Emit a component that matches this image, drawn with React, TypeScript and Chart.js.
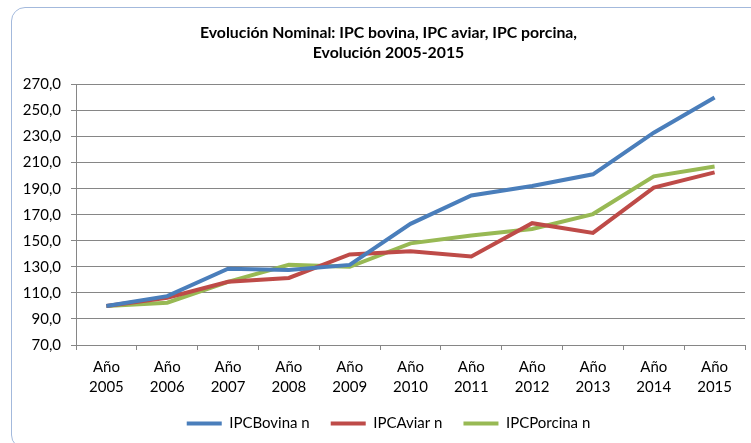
import React, { useEffect, useRef } from "react";
import { Chart, registerables } from "chart.js";

Chart.register(...registerables);

const years = ["2005", "2006", "2007", "2008", "2009", "2010", "2011", "2012", "2013", "2014", "2015"];
const bovina = [100, 107.5, 128.5, 127.5, 131.5, 163, 184.8, 192, 201, 233, 260];
const aviar = [100, 106.3, 118.5, 121.5, 139.5, 142, 138, 163.5, 156, 190.8, 202.5];
const porcina = [100, 102.5, 118.5, 131.5, 130, 148, 154, 159, 170.5, 199.5, 207];
const titleLines = ["Evolución Nominal: IPC bovina, IPC aviar, IPC porcina,", "Evolución 2005-2015"];
const FONT = "Lato";

export default function App() {
  const ref = useRef<HTMLCanvasElement>(null);
  useEffect(() => {
    document.body.style.margin = "0";
    const ctx = ref.current!;
    const chart = new Chart(ctx, {
      type: "line",
      data: {
        labels: years.map((y) => ["Año", y]),
        datasets: [
          { label: "IPCBovina n", data: bovina, borderColor: "#4A7EBB", backgroundColor: "#4A7EBB", borderWidth: 4, pointRadius: 0, tension: 0 },
          { label: "IPCAviar n", data: aviar, borderColor: "#BE4B48", backgroundColor: "#BE4B48", borderWidth: 4, pointRadius: 0, tension: 0 },
          { label: "IPCPorcina n", data: porcina, borderColor: "#98B954", backgroundColor: "#98B954", borderWidth: 4, pointRadius: 0, tension: 0 },
        ],
      },
      options: {
        animation: false,
        responsive: false,
        devicePixelRatio: 1,
        layout: { padding: { left: 20, right: 0, top: 23, bottom: 0 } },
        plugins: {
          title: {
            display: true,
            text: titleLines,
            color: "#000",
            font: { family: FONT, size: 15.8, weight: "bold", lineHeight: 1.28 },
            padding: { top: 0, bottom: 21 },
          },
          legend: {
            position: "bottom",
            labels: {
              usePointStyle: true,
              pointStyle: "line",
              pointStyleWidth: 35,
              color: "#000",
              font: { family: FONT, size: 15 },
              padding: 21,
            },
          },
          tooltip: { enabled: false },
        },
        scales: {
          x: {
            offset: true,
            afterFit: (s: any) => { s.height = 50; },
            grid: { offset: true, drawOnChartArea: false, drawTicks: true, tickLength: 5, color: "#868686" },
            border: { display: true, color: "#868686" },
            ticks: { color: "#000", font: { family: FONT, size: 15, lineHeight: 1.333 }, maxRotation: 0, autoSkip: false, padding: 7 },
          },
          y: {
            min: 70,
            max: 270,
            afterFit: (s: any) => { s.width = 56; },
            grid: { color: "#868686", tickLength: 5 },
            border: { display: true, color: "#868686" },
            ticks: {
              stepSize: 20,
              color: "#000",
              padding: 10,
              font: { family: FONT, size: 15 },
              callback: (v: any) => Number(v).toFixed(1).replace(".", ","),
            },
          },
          yRight: {
            type: "linear",
            position: "right",
            display: true,
            afterFit: (s: any) => { s.width = 12; },
            grid: { drawOnChartArea: false, drawTicks: false },
            border: { display: false },
            ticks: { display: false },
          },
        },
      },
    });
    return () => chart.destroy();
  }, []);
  return (
    <div style={{ position: "relative", width: 751, height: 443, background: "#fff", overflow: "hidden" }}>
      <canvas ref={ref} width={757} height={441} style={{ position: "absolute", left: 0, top: 0 }} />
      <div style={{ position: "absolute", left: 11, top: 7, width: 770, height: 440, border: "1px solid #A3B9DC", borderRadius: 14, pointerEvents: "none" }} />
    </div>
  );
}
